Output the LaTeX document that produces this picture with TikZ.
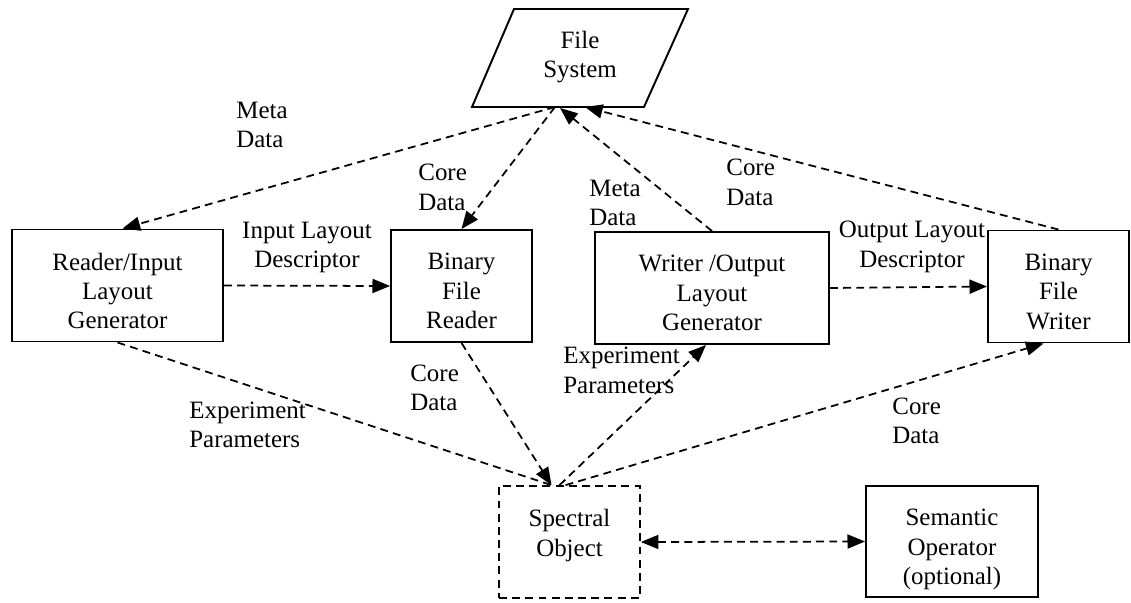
\documentclass[tikz,border=0pt]{standalone}
\usepackage{fontspec}
\setmainfont{Liberation Serif}
\usetikzlibrary{arrows.meta,calc}

\begin{document}
\begin{tikzpicture}[x=0.02cm, y=-0.02cm, line join=miter,
	every node/.style={font=\fontsize{14.2pt}{16.7pt}\selectfont, align=center},
	box/.style={draw, line width=1.1pt, minimum height=2.24cm, inner sep=2pt},
	boxtext/.style={anchor=north, yshift=-0.48cm, inner sep=0pt},
	dline/.style={line width=1pt, dash pattern=on 4.5pt off 3pt},
	tip/.style={-{Triangle[length=10pt,width=8pt]}},
	lbl/.style={anchor=west, align=left, inner sep=0pt}]
	\useasboundingbox (0,0) rectangle (1131,602);
	\draw[line width=1.1pt] (472,107) -- (644,107) -- (688,9) -- (514,9) -- cycle;
	\node (fs) at (580,57) {File\\System};
	\coordinate (fsa) at (555,107);
	\coordinate (fsb) at (560,108);
	\coordinate (fsc) at (585,107);

	\node[box, minimum width=4.22cm, label={[boxtext]north:{Reader/Input\\Layout\\Generator}}] (reader) at (117.5,285.5) {};
	\node[box, minimum width=2.82cm, label={[boxtext]north:{Binary\\File\\Reader}}] (bfr) at (461.5,286) {};
	\node[box, minimum width=4.68cm, label={[boxtext]north:{Writer /Output\\Layout\\Generator}}] (writer) at (712,288) {};
	\node[box, minimum width=2.82cm, label={[boxtext]north:{Binary\\File\\Writer}}] (bfw) at (1058.5,286.5) {};
	\node[box, minimum width=2.82cm, dline, label={[boxtext]north:{Spectral\\Object}}] (spec) at (569.5,542) {};
	\node[box, minimum width=3.44cm, minimum height=2.22cm, label={[boxtext]north:{Semantic\\Operator\\(optional)}}] (sem) at (952,541.5) {};

	\coordinate (spa) at ($(spec.north)+(-18,0)$);
	\coordinate (spb) at ($(spec.north)+(-10,0)$);
	\coordinate (spc) at ($(spec.north)+(-4,0)$);

	\draw[dline, tip] (fsa) -- ($(reader.north)+(5,0)$);
	\draw[dline, tip] (fsa) -- (bfr.north);
	\draw[dline, tip] (writer.north) -- (fsb);
	\draw[dline, tip] (bfw.north) -- (fsc);
	\draw[dline, tip] (reader.east) -- (bfr.west);
	\draw[dline, tip] (writer.east) -- (bfw.west);
	\draw[dline] (reader.south) -- (spa);
	\draw[dline, tip] (bfr.south) -- (spa);
	\draw[dline, tip] (spb) -- ($(writer.south)+(-6,0)$);
	\draw[dline, tip] (spc) -- ($(bfw.south)+(-15,0)$);
	\draw[dline, {Triangle[length=10pt,width=8pt]}-{Triangle[length=10pt,width=8pt]}] (spec.east) -- (sem.west);

	\node (inlay) at (307,247.5) {Input Layout\\Descriptor};
	\node (outlay) at (912,247) {Output Layout\\Descriptor};
	\node[lbl] (metaL) at (236,125) {Meta\\Data};
	\node[lbl] (coreL) at (418,187.5) {Core\\Data};
	\node[lbl] (metaW) at (589,203) {Meta\\Data};
	\node[lbl] (coreW) at (726,182.5) {Core\\Data};
	\node[lbl] (coreB) at (410,388) {Core\\Data};
	\node[lbl] (expL) at (189,425) {Experiment\\Parameters};
	\node[lbl] (expR) at (563,370.5) {Experiment\\Parameters};
	\node[lbl] (coreR) at (892,421) {Core\\Data};
\end{tikzpicture}
\end{document}
